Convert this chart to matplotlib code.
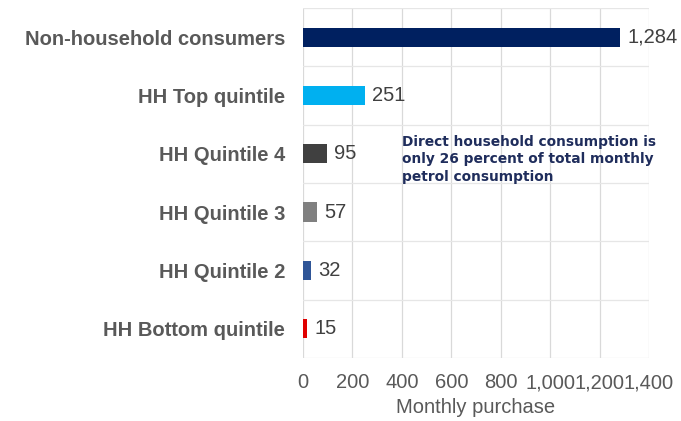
import matplotlib.pyplot as plt
import numpy as np

categories = ["Non-household consumers", "HH Top quintile", "HH Quintile 4",
              "HH Quintile 3", "HH Quintile 2", "HH Bottom quintile"]
values = [1284, 251, 95, 57, 32, 15]
colors = ["#002060", "#00B0F0", "#404040", "#808080", "#2F5597", "#E00000"]
xticks = [0, 200, 400, 600, 800, 1000, 1200, 1400]

fig = plt.figure(figsize=(6.81, 4.21), dpi=100)
ax = fig.add_axes([0.445, 0.150, 0.508, 0.831])

y = np.arange(len(categories))
ax.barh(y, values, height=0.33, color=colors, zorder=3)
for yi, v in zip(y, values):
    ax.text(v + 30, yi, f"{v:,}", va="center", ha="left",
            fontsize=14.5, color="#404040", family="Liberation Sans")

ax.set_ylim(len(categories) - 0.5, -0.5)
ax.set_xlim(0, 1400)
ax.set_yticks(y)
ax.set_yticklabels(categories, fontsize=14.5, fontweight="bold",
                   color="#595959", family="Liberation Sans")
ax.set_yticks(np.arange(-0.5, len(categories), 1), minor=True)
ax.set_xticks(xticks)
ax.set_xticklabels([f"{t:,}" for t in xticks], fontsize=14.5,
                   color="#595959", family="Liberation Sans")
ax.tick_params(axis="both", which="both", length=0)
ax.tick_params(axis="y", pad=13)
ax.tick_params(axis="x", pad=11)
ax.grid(True, axis="x", color="#D9D9D9", linewidth=0.9, zorder=0)
ax.grid(True, axis="y", which="minor", color="#E6E6E6", linewidth=0.9, zorder=0)
for s in ax.spines.values():
    s.set_visible(False)

ax.set_xlabel("Monthly purchase", fontsize=14.5, color="#595959",
              family="Liberation Sans", labelpad=4)

ax.text(400, 1.68, "Direct household consumption is\nonly 26 percent of total monthly\npetrol consumption",
        fontsize=9.9, fontweight="bold", color="#1F2D5C", va="top", ha="left",
        linespacing=1.3, zorder=4)

fig.savefig("out.png", dpi=100)
